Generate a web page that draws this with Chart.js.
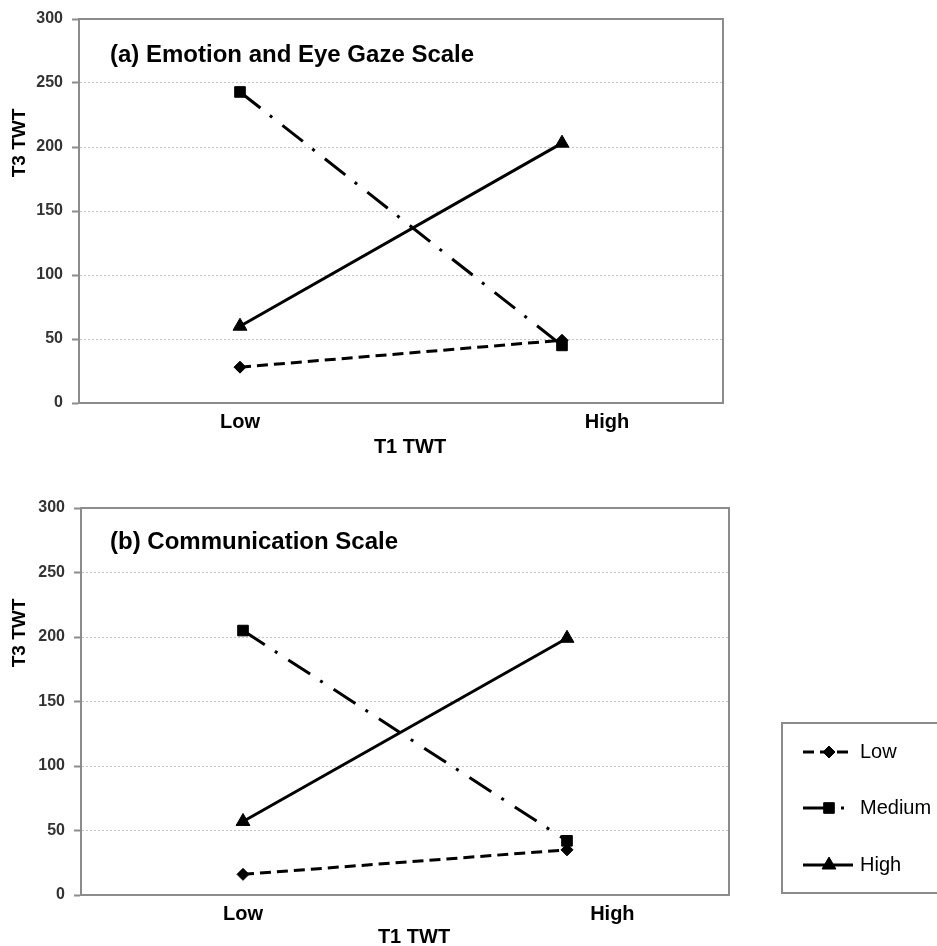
<!DOCTYPE html>
<html>
<head>
<meta charset="UTF-8">
<title>T3 TWT by T1 TWT</title>
<style>
    body { margin: 0; background: #fff; }
    .panel { position: absolute; left: 0; }
    #topChart { top: 0; }
    #bottomChart { top: 470px; }
</style>
</head>
<body>
<canvas id="topChart" class="panel" width="937" height="462"></canvas>
<canvas id="bottomChart" class="panel" width="937" height="476"></canvas>
<script src="https://cdn.jsdelivr.net/npm/chart.js@4"></script>
<script>
    // categories on the x axis and the three groups (legend)
    const categories = ['Low', 'High'];
    const groups = ['Low', 'Medium', 'High'];
    const yTicks = [0, 50, 100, 150, 200, 250, 300];

    // (a) Emotion and Eye Gaze Scale
    const emotionLow = [28, 49];
    const emotionMedium = [243, 45];
    const emotionHigh = [60, 203];

    // (b) Communication Scale
    const commLow = [16, 35];
    const commMedium = [205, 42];
    const commHigh = [57, 199];

    Chart.defaults.font.family = '"Liberation Sans", Arial, sans-serif';

    const styles = {
        Low: { dash: [11, 6], point: 'rectRot', radius: 6 },
        Medium: { dash: [26, 12, 3, 13], point: 'rect', radius: 7.5 },
        High: { dash: [], point: 'triangle', radius: 8 }
    };
    // where the category labels sit on the x axis (the points are at 1 and 2)
    const labelPos = [1, 2.14];

    // panel title, axis titles and the plot frame
    const panelText = {
        id: 'panelText',
        beforeDatasetsDraw(chart, args, opts) {
            const a = chart.chartArea, ctx = chart.ctx;
            ctx.save();
            ctx.strokeStyle = '#8c8c8c';
            ctx.lineWidth = 2;
            ctx.setLineDash([]);
            ctx.strokeRect(a.left, a.top, a.right - a.left, a.bottom - a.top);
            ctx.restore();
        },
        afterDraw(chart, args, opts) {
            const ctx = chart.ctx;
            ctx.save();
            ctx.fillStyle = '#000';
            ctx.textBaseline = 'middle';
            ctx.textAlign = 'left';
            ctx.font = 'bold 24px "Liberation Sans", Arial, sans-serif';
            ctx.fillText(opts.title, 110, opts.titleY);
            ctx.textAlign = 'center';
            ctx.font = 'bold 20px "Liberation Sans", Arial, sans-serif';
            ctx.fillText('T1 TWT', opts.xTitleX, opts.xTitleY);
            ctx.translate(20, opts.yTitleY);
            ctx.rotate(-Math.PI / 2);
            ctx.font = 'bold 19px "Liberation Sans", Arial, sans-serif';
            ctx.fillText('T3 TWT', 0, 0);
            ctx.restore();
        }
    };

    // legend box to the right of the lower panel
    const sideLegend = {
        id: 'sideLegend',
        afterDraw(chart) {
            const ctx = chart.ctx;
            ctx.save();
            ctx.strokeStyle = '#8c8c8c';
            ctx.lineWidth = 2;
            ctx.strokeRect(782, 253, 170, 170);
            const rows = [282, 338, 395];
            chart.data.datasets.forEach((ds, i) => {
                const y = rows[i];
                ctx.strokeStyle = '#000';
                ctx.fillStyle = '#000';
                ctx.lineWidth = 3;
                ctx.setLineDash(ds.borderDash);
                ctx.beginPath();
                ctx.moveTo(803, y);
                ctx.lineTo(853, y);
                ctx.stroke();
                ctx.setLineDash([]);
                ctx.lineWidth = 1;
                Chart.helpers.drawPoint(ctx, {
                    pointStyle: ds.pointStyle, radius: ds.pointRadius, rotation: 0, borderWidth: 1
                }, 829, y);
                ctx.font = '20px "Liberation Sans", Arial, sans-serif';
                ctx.textBaseline = 'middle';
                ctx.textAlign = 'left';
                ctx.fillText(ds.label, 860, y);
            });
            ctx.restore();
        }
    };

    function makeChart(id, values, cfg, extra) {
        return new Chart(document.getElementById(id), {
            type: 'line',
            data: {
                datasets: groups.map((g, i) => ({
                    label: g,
                    data: values[i].map((v, j) => ({ x: j + 1, y: v })),
                    borderColor: '#000',
                    backgroundColor: '#000',
                    borderWidth: 3,
                    borderDash: styles[g].dash,
                    pointStyle: styles[g].point,
                    pointRadius: styles[g].radius,
                    pointBorderWidth: 1,
                    tension: 0,
                    fill: false
                }))
            },
            options: {
                responsive: false,
                animation: false,
                layout: { padding: cfg.padding },
                plugins: {
                    legend: { display: false },
                    tooltip: { enabled: false },
                    panelText: cfg.text
                },
                scales: {
                    x: {
                        type: 'linear',
                        min: 0.5,
                        max: 2.5,
                        afterBuildTicks: s => { s.ticks = labelPos.map(v => ({ value: v })); },
                        afterFit: s => { s.height = cfg.xHeight; },
                        grid: { display: false, drawTicks: false },
                        border: { color: '#8c8c8c', width: 2 },
                        ticks: {
                            padding: 7,
                            color: '#000',
                            font: { size: 20, weight: 'bold' },
                            callback: (v, i) => categories[i]
                        }
                    },
                    y: {
                        min: 0,
                        max: 300,
                        afterBuildTicks: s => { s.ticks = yTicks.map(v => ({ value: v })); },
                        afterFit: s => { s.width = cfg.yWidth; },
                        grid: { color: '#c4c4c4', lineWidth: 1, tickLength: 7, tickColor: '#8c8c8c', tickWidth: 2, tickBorderDash: [] },
                        border: { color: '#8c8c8c', width: 2, dash: [2, 2] },
                        ticks: { padding: 9, color: '#333', font: { size: 16, weight: 'bold' } }
                    }
                }
            },
            plugins: [panelText].concat(extra || [])
        });
    }

    makeChart('topChart', [emotionLow, emotionMedium, emotionHigh], {
        padding: { left: 10, top: 19, right: 214, bottom: 0 },
        yWidth: 69,
        xHeight: 59,
        text: { title: '(a) Emotion and Eye Gaze Scale', titleY: 55, xTitleX: 410, xTitleY: 447, yTitleY: 143 }
    });

    makeChart('bottomChart', [commLow, commMedium, commHigh], {
        padding: { left: 12, top: 38, right: 208, bottom: 0 },
        yWidth: 69,
        xHeight: 51,
        text: { title: '(b) Communication Scale', titleY: 72, xTitleX: 414, xTitleY: 467, yTitleY: 163 }
    }, [sideLegend]);
</script>
</body>
</html>
